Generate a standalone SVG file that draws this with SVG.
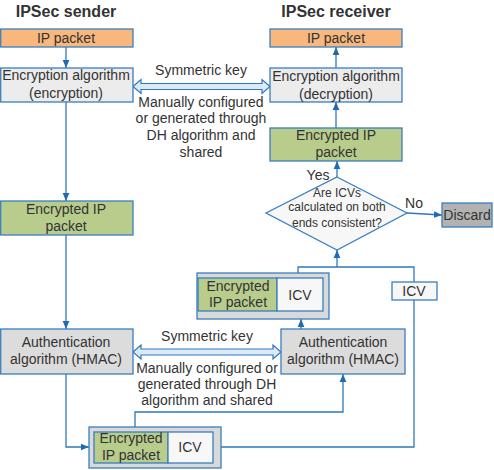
<svg xmlns="http://www.w3.org/2000/svg" width="494" height="470" viewBox="0 0 494 470">
<defs>
<marker id="ah" viewBox="0 0 10 10" refX="10" refY="5" markerWidth="8" markerHeight="8" markerUnits="userSpaceOnUse" orient="auto">
<path d="M0,0.8 L10,5 L0,9.2 z" fill="#1f6cb4"/>
</marker>
<style>
.t{font-family:"Liberation Sans",Arial,sans-serif;font-size:14px;fill:#333;text-anchor:middle}
.d{font-size:12px}
.h{font-family:"Liberation Sans",Arial,sans-serif;font-size:16px;font-weight:bold;fill:#333;text-anchor:middle}
.b{stroke:#3a7fc1;stroke-width:1.3}
.or{fill:#f8b77c}
.lg{fill:#ececec}
.gr{fill:#b8cc8c}
.ag{fill:#dcdcdc}
.og{fill:#d9d9d9}
.wh{fill:#f7f7f7}
.dc{fill:#b2b2b2}
.c{fill:none;stroke:#2f78bd;stroke-width:1.3}
.a{marker-end:url(#ah)}
.k{fill:#dce9f7;stroke:#2f78bd;stroke-width:1.2}
</style>
</defs>
<text class="h" x="66" y="17">IPSec sender</text>
<text class="h" x="336" y="17">IPSec receiver</text>

<g id="connectors">
<line class="c a" x1="66" y1="47" x2="66" y2="68"/>
<line class="c a" x1="66" y1="102" x2="66" y2="201"/>
<line class="c a" x1="66" y1="235" x2="66" y2="329"/>
<polyline class="c a" points="66,374 66,447 89,447"/>
<polyline class="c a" points="135,432 135,412 343,412 343,374"/>
<polyline class="c" points="213,447 414,447 414,300"/>
<line class="c a" x1="301" y1="329" x2="301" y2="319"/>
<polyline class="c" points="298,278 298,267 414,267 414,282"/>
<line class="c a" x1="337" y1="267" x2="337" y2="250"/>
<line class="c a" x1="407" y1="213" x2="442" y2="215"/>
<line class="c a" x1="337" y1="177" x2="337" y2="161"/>
<line class="c a" x1="336" y1="128" x2="336" y2="102"/>
<line class="c a" x1="336" y1="68" x2="336" y2="47"/>
<polygon class="k" points="133,86.5 141,79.5 141,83.5 262,83.5 262,79.5 270,86.5 262,93.5 262,89.5 141,89.5 141,93.5"/>
<polygon class="k" points="133,352 141,345 141,349 273,349 273,345 281,352 273,359 273,355 141,355 141,359"/>
</g>

<g id="sym1">
<text class="t" x="201" y="75">Symmetric key</text>
<text class="t" x="201" y="107">Manually configured</text>
<text class="t" x="201" y="123">or generated through</text>
<text class="t" x="201" y="140">DH algorithm and</text>
<text class="t" x="201" y="157">shared</text>
</g>
<g id="sym2">
<text class="t" x="207" y="341">Symmetric key</text>
<text class="t" x="207" y="373">Manually configured or</text>
<text class="t" x="207" y="389">generated through DH</text>
<text class="t" x="207" y="405">algorithm and shared</text>
</g>

<g id="s_ip">
<rect class="b or" x="0.7" y="29" width="132.3" height="18"/>
<text class="t" x="66" y="43">IP packet</text>
</g>
<g id="s_enc">
<rect class="b lg" x="0.7" y="68" width="132.3" height="34"/>
<text class="t" x="66" y="80">Encryption algorithm</text>
<text class="t" x="66" y="98">(encryption)</text>
</g>
<g id="s_eip">
<rect class="b gr" x="0.7" y="201" width="132.3" height="34"/>
<text class="t" x="66" y="214">Encrypted IP</text>
<text class="t" x="66" y="231">packet</text>
</g>
<g id="s_auth">
<rect class="b ag" x="0.7" y="329" width="132.3" height="45"/>
<text class="t" x="66" y="347">Authentication</text>
<text class="t" x="66" y="364">algorithm (HMAC)</text>
</g>
<g id="s_pkt">
<rect class="b og" x="89" y="427" width="132" height="41"/>
<rect class="b gr" x="94" y="432" width="74" height="31"/>
<rect class="b wh" x="168" y="432" width="45" height="31"/>
<text class="t" x="131" y="443">Encrypted</text>
<text class="t" x="131" y="460">IP packet</text>
<text class="t" x="190" y="452">ICV</text>
</g>

<g id="r_ip">
<rect class="b or" x="270" y="29" width="132" height="18"/>
<text class="t" x="336" y="43">IP packet</text>
</g>
<g id="r_dec">
<rect class="b lg" x="270" y="68" width="132" height="34"/>
<text class="t" x="336" y="81">Encryption algorithm</text>
<text class="t" x="336" y="99">(decryption)</text>
</g>
<g id="r_eip">
<rect class="b gr" x="270" y="128" width="132" height="33"/>
<text class="t" x="336" y="140">Encrypted IP</text>
<text class="t" x="336" y="157">packet</text>
</g>
<g id="r_dia">
<polygon class="b wh" points="337,177 407,213 337,250 266,213"/>
<text class="t d" x="337" y="197">Are ICVs</text>
<text class="t d" x="337" y="211">calculated on both</text>
<text class="t d" x="337" y="227">ends consistent?</text>
<text class="t" x="318" y="180">Yes</text>
<text class="t" x="414" y="208">No</text>
</g>
<g id="r_discard">
<rect class="b dc" x="442" y="203" width="50" height="24"/>
<text class="t" x="467" y="220">Discard</text>
</g>
<g id="r_pkt">
<rect class="b og" x="197" y="273" width="132" height="46"/>
<rect class="b gr" x="198" y="278" width="79" height="33"/>
<rect class="b wh" x="277" y="278" width="46" height="33"/>
<text class="t" x="238" y="291">Encrypted</text>
<text class="t" x="238" y="307">IP packet</text>
<text class="t" x="300" y="300">ICV</text>
</g>
<g id="r_icv">
<rect class="b wh" x="392" y="282" width="45" height="18"/>
<text class="t" x="414" y="296">ICV</text>
</g>
<g id="r_auth">
<rect class="b ag" x="281" y="329" width="124" height="45"/>
<text class="t" x="343" y="347">Authentication</text>
<text class="t" x="343" y="364">algorithm (HMAC)</text>
</g>
</svg>
